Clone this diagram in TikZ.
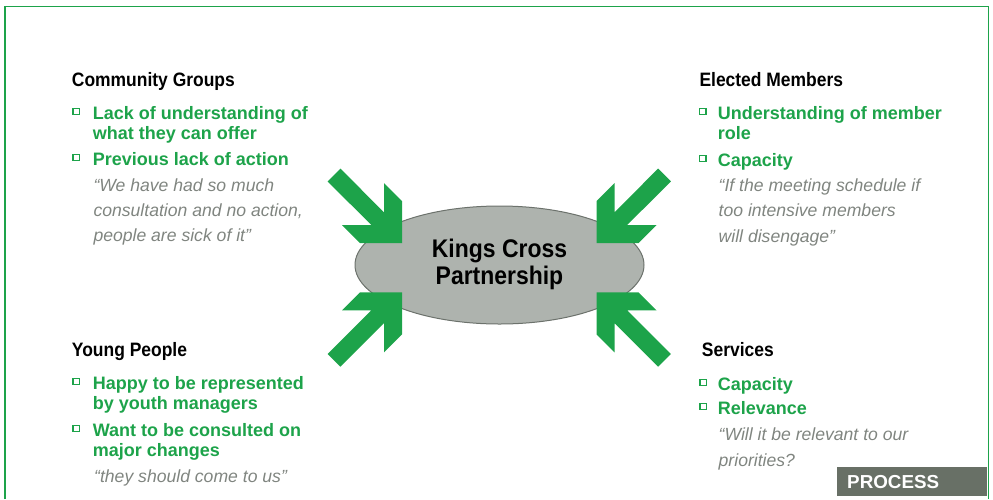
\documentclass[tikz,border=0pt]{standalone}
\usepackage{fontspec}
\setmainfont{Liberation Sans}
\newfontfamily\headfont{Liberation Sans}[FakeStretch=0.9]
\usetikzlibrary{shapes.geometric}
\definecolor{kgreen}{RGB}{29,163,74}
\definecolor{qgray}{RGB}{128,133,128}
\definecolor{ellfill}{RGB}{174,179,174}
\definecolor{ellborder}{RGB}{108,114,108}
\definecolor{procgray}{RGB}{104,112,102}
\tikzset{
  inarrow/.pic={\fill[kgreen] (0,0) -- (-42,0) -- (-60,-18) -- (-30.7,-18) -- (-74.4,-61.6) -- (-61.6,-74.4) -- (-18,-30.7) -- (-18,-60) -- (0,-42) -- cycle;}
}
\begin{document}
\begin{tikzpicture}[x=1pt,y=-1pt,
  head/.style={anchor=base west, inner sep=0pt, font=\headfont\bfseries\fontsize{19.4}{22}\selectfont},
  itm/.style={anchor=base west, inner sep=0pt, align=left, text=kgreen, font=\bfseries\fontsize{18}{20}\selectfont},
  quo/.style={anchor=base west, inner sep=0pt, align=left, text=qgray, font=\itshape\fontsize{17.6}{25.3}\selectfont},
  bul/.style={draw=kgreen, line width=1.2pt, minimum width=6.5pt, minimum height=6pt, inner sep=0pt, anchor=center}]
\useasboundingbox (0,0) rectangle (993,499);
% frame
\draw[kgreen, line width=1.5pt] (5.2,499) -- (5.2,6.3) -- (988.5,6.3) -- (988.5,499);
% centre
\node[ellipse, draw=ellborder, fill=ellfill, line width=1pt, line join=round, line cap=round, minimum width=289pt, minimum height=118pt, inner sep=0pt] (kc) at (499.5,265) {};
% multi-line nodes are placed by the baseline of their last line
\node[anchor=base, align=center, inner sep=0pt, font=\headfont\bfseries\fontsize{25.5}{26.6}\selectfont] (kct) at (499.5,284) {Kings Cross\\Partnership};
\pic (a1) at (402,243) {inarrow};
\pic[xscale=-1] (a2) at (596.5,243) {inarrow};
\pic[yscale=-1] (a3) at (402,292.3) {inarrow};
\pic[xscale=-1,yscale=-1] (a4) at (596.5,292.3) {inarrow};
% community groups
\node[head] (cg) at (71.7,86.7) {Community Groups};
\node[bul] (cgb1) at (76.2,111.5) {};
\node[itm] (cg1) at (92.7,139.3) {Lack of understanding of\\what they can offer};
\node[bul] (cgb2) at (76.2,157.5) {};
\node[itm] (cg2) at (92.7,165.3) {Previous lack of action};
\node[quo] (cgq) at (93.3,241.9) {“We have had so much\\consultation and no action,\\people are sick of it”};
% young people
\node[head] (yp) at (71.7,356.7) {Young People};
\node[bul] (ypb1) at (76.2,381.5) {};
\node[itm] (yp1) at (92.7,409.3) {Happy to be represented\\by youth managers};
\node[bul] (ypb2) at (76.2,428.2) {};
\node[itm] (yp2) at (92.7,456) {Want to be consulted on\\major changes};
\node[quo] (ypq) at (94,482) {“they should come to us”};
% elected members
\node[head] (em) at (699.3,86.7) {Elected Members};
\node[bul] (emb1) at (702.7,111.5) {};
\node[itm] (em1) at (717.7,139.3) {Understanding of member\\role};
\node[bul] (emb2) at (702.7,158.2) {};
\node[itm] (em2) at (717.7,166) {Capacity};
\node[quo] (emq) at (718.5,242) {“If the meeting schedule if\\too intensive members\\will disengage”};
% services
\node[head] (sv) at (701.7,356.7) {Services};
\node[bul] (svb1) at (703.3,382.2) {};
\node[itm] (sv1) at (717.7,390) {Capacity};
\node[bul] (svb2) at (703.3,406.2) {};
\node[itm] (sv2) at (717.7,414) {Relevance};
\node[quo] (svq) at (718.5,466) {“Will it be relevant to our\\priorities?};
% process tab
\node[fill=procgray, text=white, anchor=north west, minimum width=150pt, minimum height=29pt, inner xsep=10pt, inner ysep=0pt, text width=130pt, align=left, font=\bfseries\fontsize{18.8}{20}\selectfont] (proc) at (837,467) {PROCESS};
\end{tikzpicture}
\end{document}
